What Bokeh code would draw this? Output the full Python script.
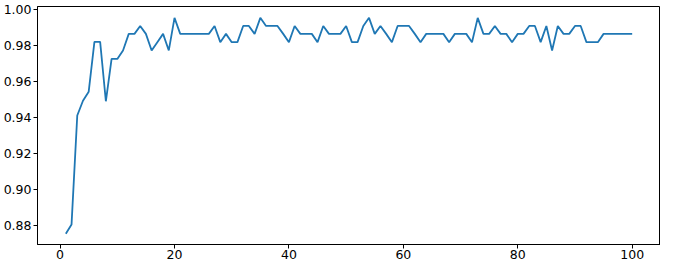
from bokeh.plotting import figure
from bokeh.models import Range1d, FixedTicker, PrintfTickFormatter
from bokeh.embed import file_html
from bokeh.resources import INLINE

epochs = list(range(1, 101))
accuracy = [
    0.8757, 0.8808, 0.9413, 0.9495, 0.9545, 0.9822, 0.9822, 0.9492, 0.9727, 0.9727,
    0.9774, 0.9866, 0.9866, 0.9910, 0.9866, 0.9774, 0.9820, 0.9866, 0.9774, 0.9955,
    0.9866, 0.9866, 0.9866, 0.9866, 0.9866, 0.9866, 0.9910, 0.9820, 0.9866, 0.9820,
    0.9820, 0.9910, 0.9910, 0.9866, 0.9955, 0.9910, 0.9910, 0.9910, 0.9866, 0.9820,
    0.9910, 0.9866, 0.9866, 0.9866, 0.9820, 0.9910, 0.9866, 0.9866, 0.9866, 0.9910,
    0.9820, 0.9820, 0.9910, 0.9955, 0.9866, 0.9910, 0.9866, 0.9820, 0.9910, 0.9910,
    0.9910, 0.9866, 0.9820, 0.9866, 0.9866, 0.9866, 0.9866, 0.9820, 0.9866, 0.9866,
    0.9866, 0.9820, 0.9955, 0.9866, 0.9866, 0.9910, 0.9866, 0.9866, 0.9820, 0.9866,
    0.9866, 0.9910, 0.9910, 0.9820, 0.9910, 0.9774, 0.9910, 0.9866, 0.9866, 0.9910,
    0.9910, 0.9820, 0.9820, 0.9820, 0.9866, 0.9866, 0.9866, 0.9866, 0.9866, 0.9866,
]
x_ticks = [0, 20, 40, 60, 80, 100]
y_ticks = [0.88, 0.90, 0.92, 0.94, 0.96, 0.98, 1.00]

p = figure(
    width=660, height=261,
    x_range=Range1d(-3.95, 104.95),
    y_range=Range1d(0.8697, 1.0018),
    output_backend="svg", toolbar_location=None,
    min_border_left=0, min_border_right=0, min_border_top=6, min_border_bottom=0,
    background_fill_color="white", border_fill_color="white",
)
p.outline_line_color = "black"
p.outline_line_width = 1
p.outline_line_alpha = 1
p.grid.visible = False

p.line(epochs, accuracy, line_color="#1f77b4", line_width=1.8)

for ax in (p.xaxis[0], p.yaxis[0]):
    ax.axis_line_color = "black"
    ax.axis_line_width = 1
    ax.major_tick_line_color = "black"
    ax.major_tick_out = 4
    ax.major_tick_in = 0
    ax.minor_tick_line_color = None
    ax.major_label_text_font = "DejaVu Sans"
    ax.major_label_text_font_size = "12.5px"
    ax.major_label_text_color = "black"
    ax.major_label_standoff = 2

p.xaxis.major_label_standoff = 1

p.xaxis.ticker = FixedTicker(ticks=x_ticks)
p.yaxis.ticker = FixedTicker(ticks=y_ticks)
p.yaxis.formatter = PrintfTickFormatter(format="%.2f")

open("out.html", "w").write(file_html(p, INLINE))
